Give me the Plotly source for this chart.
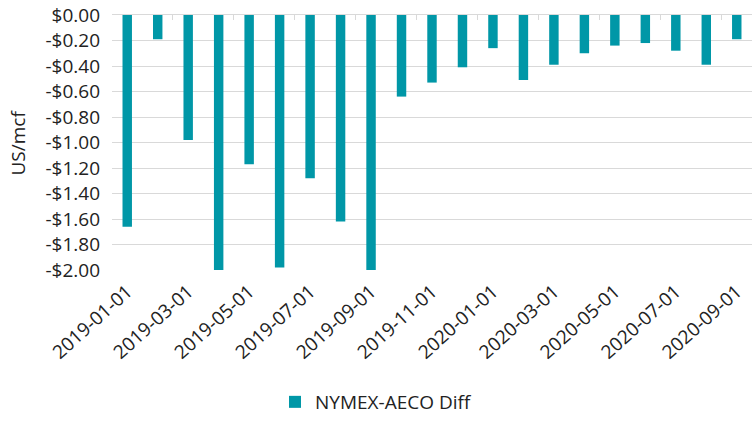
import plotly.graph_objects as go

months = ["2019-01-01","2019-02-01","2019-03-01","2019-04-01","2019-05-01","2019-06-01",
          "2019-07-01","2019-08-01","2019-09-01","2019-10-01","2019-11-01","2019-12-01",
          "2020-01-01","2020-02-01","2020-03-01","2020-04-01","2020-05-01","2020-06-01",
          "2020-07-01","2020-08-01","2020-09-01"]
diff = [-1.66,-0.19,-0.98,-2.00,-1.17,-1.98,-1.28,-1.62,-2.00,-0.64,-0.53,-0.41,
        -0.26,-0.51,-0.39,-0.30,-0.24,-0.22,-0.28,-0.39,-0.19]
y_ticks = [0.0,-0.2,-0.4,-0.6,-0.8,-1.0,-1.2,-1.4,-1.6,-1.8,-2.0]
y_labels = ["$0.00","-$0.20","-$0.40","-$0.60","-$0.80","-$1.00","-$1.20","-$1.40","-$1.60","-$1.80","-$2.00"]
x_label_cats = months[::2]

font = "Open Sans"
teal = "#0097A7"
grid = "#d9d9d9"
txt = "#222222"

L, R, T, B = 112, 0, 15, 151
W, H = 752, 421
pw = W - L - R

fig = go.Figure()
fig.add_trace(go.Bar(x=months, y=diff, name="NYMEX-AECO Diff", marker_color=teal,
                     marker_line_width=0))
# top axis carrying boundary tick marks
fig.add_trace(go.Scatter(x=[0], y=[0], xaxis="x2", mode="markers",
                         marker=dict(opacity=0), showlegend=False, hoverinfo="skip"))

fig.update_layout(
    width=W, height=H,
    margin=dict(l=L, r=R, t=T, b=B, autoexpand=False),
    paper_bgcolor="white", plot_bgcolor="white",
    font=dict(family=font, size=19, color=txt),
    bargap=0.69,
    showlegend=True,
    legend=dict(orientation="h", xref="container", x=0.5, xanchor="center",
                yref="container", y=0.0, yanchor="bottom", font=dict(size=19),
                itemwidth=30),
    xaxis=dict(type="category", categoryorder="array", categoryarray=months,
               tickmode="array", tickvals=x_label_cats, ticktext=x_label_cats,
               tickangle=-42, ticks="", showgrid=False, showline=False,
               tickfont=dict(size=19), range=[-0.5, 20.5], automargin=False,
               ticklabelstandoff=6),
    xaxis2=dict(overlaying="x", side="top", range=[-0.5, 20.5],
                tickmode="array", tickvals=[i - 0.5 for i in range(0, 22, 2)],
                ticks="inside", ticklen=5, tickcolor=grid, showticklabels=False,
                showgrid=False, showline=True, linecolor=grid, linewidth=1,
                zeroline=False, automargin=False),
    yaxis=dict(range=[-2.0, 0.0], tickmode="array", tickvals=y_ticks, ticktext=y_labels,
               showgrid=True, gridcolor=grid, gridwidth=1, zeroline=False,
               showline=False, tickfont=dict(size=19), ticks="",
               automargin=False, ticklabelstandoff=11),
    annotations=[dict(text="US/mcf", textangle=-90, xref="paper", yref="paper",
                      x=(17 - L) / pw, y=0.5, xanchor="center", yanchor="middle",
                      showarrow=False, font=dict(size=19, color=txt))],
)
fig.write_html("out.html", config={"displayModeBar": False},
               post_script="document.body.style.margin='0';document.body.style.padding='0';")
